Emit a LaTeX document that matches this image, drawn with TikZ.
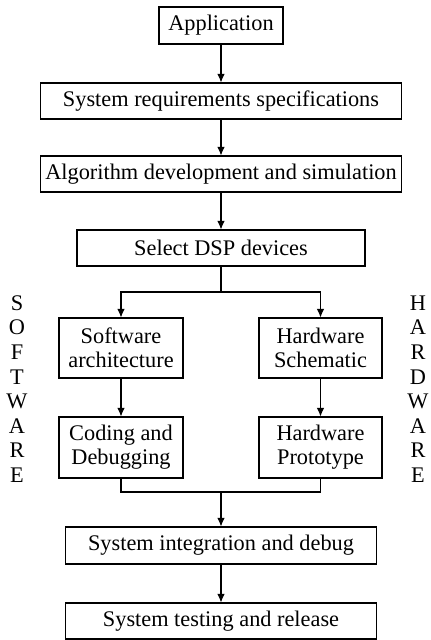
\documentclass[tikz,border=0pt]{standalone}
\usepackage{fontspec}
\setmainfont{Liberation Serif}
\usetikzlibrary{arrows.meta}

\begin{document}
\begin{tikzpicture}[
    font=\fontsize{12.7}{13.8}\selectfont,
    stage/.style={draw, line width=0.6pt, inner sep=0pt, align=center},
    flow/.style={line width=0.6pt, -{Latex[length=1.7mm,width=1.5mm]}},
    link/.style={line width=0.6pt},
    sidetext/.style={align=center, inner sep=0pt, font=\fontsize{12.7}{14}\selectfont}
  ]
    \useasboundingbox (0,0) rectangle (8.6,-12.8);

    \node[stage, minimum width=2.48cm, minimum height=0.74cm] (app)   at (4.42, -0.51) {Application};
    \node[stage, minimum width=7.22cm, minimum height=0.72cm] (req)   at (4.42, -2.02) {System requirements specifications};
    \node[stage, minimum width=7.22cm, minimum height=0.72cm] (algo)  at (4.42, -3.48) {Algorithm development and simulation};
    \node[stage, minimum width=5.76cm, minimum height=0.72cm] (dsp)   at (4.42, -4.96) {Select DSP devices};
    \node[stage, minimum width=2.48cm, minimum height=1.20cm] (sw)    at (2.42, -6.96) {Software\\architecture};
    \node[stage, minimum width=2.46cm, minimum height=1.20cm] (hs)    at (6.41, -6.96) {Hardware\\Schematic};
    \node[stage, minimum width=2.48cm, minimum height=1.22cm] (code)  at (2.42, -8.95) {Coding and\\Debugging};
    \node[stage, minimum width=2.46cm, minimum height=1.22cm] (proto) at (6.41, -8.95) {Hardware\\Prototype};
    \node[stage, minimum width=6.22cm, minimum height=0.74cm] (integ) at (4.42,-10.91) {System integration and debug};
    \node[stage, minimum width=6.22cm, minimum height=0.72cm] (test)  at (4.42,-12.42) {System testing and release};

    \node[sidetext] (swside) at (0.34, -7.78) {S\\O\\F\\T\\W\\A\\R\\E};
    \node[sidetext] (hwside) at (8.36, -7.78) {H\\A\\R\\D\\W\\A\\R\\E};

    \coordinate (split) at (4.42, -5.84);
    \coordinate (join)  at (4.42, -9.84);

    \draw[flow] (app) -- (req);
    \draw[flow] (req) -- (algo);
    \draw[flow] (algo) -- (dsp);
    \draw[link] (dsp) -- (split);
    \draw[flow] (split) -| (sw.north);
    \draw[flow] (split) -| (hs.north);
    \draw[flow] (sw) -- (code);
    \draw[flow] (hs) -- (proto);
    \draw[link] (code.south) |- (join) -| (proto.south);
    \draw[flow] (join) -- (integ);
    \draw[flow] (integ) -- (test);
\end{tikzpicture}
\end{document}
